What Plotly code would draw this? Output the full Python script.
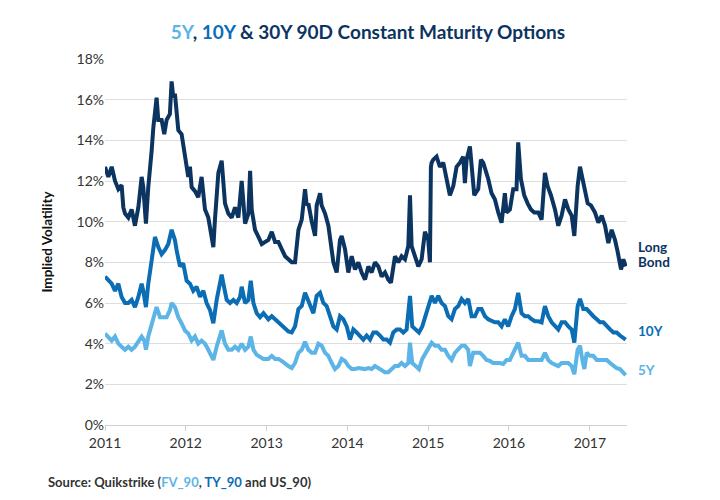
import pandas as pd
import plotly.graph_objects as go

# Leituras aproximadas do gráfico (ano decimal, volatilidade implícita em %)
anos_30y = [2011.000, 2011.041, 2011.083, 2011.124, 2011.165, 2011.206, 2011.227, 2011.248, 2011.289, 2011.330,
            2011.371, 2011.413, 2011.454, 2011.474, 2011.507, 2011.536, 2011.578, 2011.598, 2011.639, 2011.660,
            2011.701, 2011.734, 2011.763, 2011.804, 2011.825, 2011.846, 2011.866, 2011.887, 2011.908, 2011.949,
            2011.969, 2011.990, 2012.031, 2012.052, 2012.073, 2012.114, 2012.155, 2012.196, 2012.217, 2012.238,
            2012.279, 2012.320, 2012.341, 2012.361, 2012.403, 2012.444, 2012.465, 2012.485, 2012.526, 2012.568,
            2012.609, 2012.650, 2012.691, 2012.733, 2012.774, 2012.795, 2012.815, 2012.856, 2012.898, 2012.939,
            2013.021, 2013.063, 2013.104, 2013.145, 2013.186, 2013.228, 2013.269, 2013.310, 2013.351, 2013.393,
            2013.434, 2013.475, 2013.496, 2013.516, 2013.558, 2013.599, 2013.619, 2013.661, 2013.681, 2013.723,
            2013.764, 2013.805, 2013.826, 2013.867, 2013.908, 2013.929, 2013.970, 2014.011, 2014.053, 2014.094,
            2014.135, 2014.176, 2014.218, 2014.259, 2014.300, 2014.341, 2014.383, 2014.424, 2014.465, 2014.506,
            2014.539, 2014.589, 2014.630, 2014.671, 2014.713, 2014.754, 2014.775, 2014.795, 2014.836, 2014.878,
            2014.919, 2014.960, 2015.001, 2015.022, 2015.034, 2015.043, 2015.063, 2015.104, 2015.146, 2015.187,
            2015.228, 2015.269, 2015.311, 2015.352, 2015.393, 2015.434, 2015.455, 2015.476, 2015.517, 2015.538,
            2015.571, 2015.620, 2015.653, 2015.682, 2015.723, 2015.744, 2015.785, 2015.826, 2015.868, 2015.909,
            2015.950, 2015.971, 2016.012, 2016.053, 2016.094, 2016.115, 2016.148, 2016.189, 2016.231, 2016.272,
            2016.313, 2016.363, 2016.404, 2016.445, 2016.478, 2016.519, 2016.569, 2016.610, 2016.651, 2016.693,
            2016.734, 2016.775, 2016.808, 2016.849, 2016.878, 2016.899, 2016.932, 2016.973, 2017.014, 2017.064,
            2017.105, 2017.147, 2017.188, 2017.229, 2017.270, 2017.312, 2017.345, 2017.386, 2017.415, 2017.444]
vol_30y = [12.7, 12.2, 12.7, 12.0, 11.6, 11.8, 10.7, 10.4, 10.2, 10.6,
           9.8, 10.7, 12.2, 11.7, 9.9, 11.7, 13.5, 14.6, 16.1, 15.0,
           15.0, 14.3, 15.0, 15.3, 16.9, 16.1, 16.3, 15.3, 14.5, 14.3,
           13.8, 13.0, 12.2, 12.7, 11.7, 11.5, 11.2, 12.2, 11.2, 10.6,
           10.2, 9.25, 8.75, 10.1, 12.4, 13.0, 12.0, 10.9, 10.4, 10.2,
           10.7, 10.2, 12.0, 9.9, 10.4, 12.5, 10.6, 9.6, 9.25, 8.9,
           9.1, 9.5, 9.0, 9.0, 8.65, 8.3, 8.15, 8.0, 8.0, 9.6,
           10.1, 11.6, 10.8, 10.9, 10.0, 9.3, 10.8, 11.4, 10.8, 10.4,
           9.8, 8.5, 8.0, 7.5, 9.1, 9.3, 8.65, 7.5, 8.3, 7.65,
           8.0, 7.5, 7.15, 7.8, 7.5, 8.0, 7.8, 7.3, 7.5, 7.15,
           7.0, 8.3, 8.0, 8.3, 8.15, 8.8, 11.3, 8.8, 8.3, 7.8,
           8.15, 9.5, 9.1, 8.0, 12.7, 12.9, 13.05, 13.2, 12.7, 12.9,
           12.1, 11.3, 11.75, 12.7, 12.9, 13.2, 11.9, 13.05, 13.7, 12.9,
           11.3, 11.6, 13.05, 12.9, 12.4, 12.1, 11.4, 11.1, 10.45, 9.95,
           11.4, 10.45, 10.6, 11.6, 11.6, 13.9, 12.1, 11.3, 10.9, 10.6,
           10.45, 10.45, 10.1, 12.4, 11.75, 11.3, 10.6, 9.8, 10.3, 11.1,
           10.6, 10.3, 9.3, 11.75, 12.7, 12.25, 11.6, 10.9, 10.8, 10.45,
           9.95, 10.3, 9.8, 8.95, 9.6, 9.1, 8.5, 7.65, 8.15, 7.8]

anos_10y = [2011.000, 2011.041, 2011.083, 2011.124, 2011.165, 2011.206, 2011.248, 2011.289, 2011.330, 2011.371,
            2011.413, 2011.454, 2011.474, 2011.507, 2011.536, 2011.578, 2011.619, 2011.660, 2011.701, 2011.742,
            2011.784, 2011.825, 2011.866, 2011.887, 2011.928, 2011.969, 2012.011, 2012.052, 2012.093, 2012.134,
            2012.176, 2012.217, 2012.258, 2012.300, 2012.341, 2012.382, 2012.423, 2012.444, 2012.465, 2012.506,
            2012.547, 2012.588, 2012.630, 2012.671, 2012.691, 2012.733, 2012.774, 2012.803, 2012.836, 2012.877,
            2012.918, 2012.960, 2013.021, 2013.063, 2013.104, 2013.145, 2013.186, 2013.228, 2013.269, 2013.310,
            2013.351, 2013.393, 2013.434, 2013.475, 2013.508, 2013.537, 2013.578, 2013.619, 2013.661, 2013.702,
            2013.743, 2013.784, 2013.826, 2013.867, 2013.908, 2013.949, 2013.991, 2014.032, 2014.073, 2014.114,
            2014.156, 2014.197, 2014.238, 2014.280, 2014.321, 2014.362, 2014.403, 2014.445, 2014.486, 2014.527,
            2014.568, 2014.610, 2014.651, 2014.692, 2014.733, 2014.775, 2014.803, 2014.845, 2014.886, 2014.927,
            2014.968, 2015.001, 2015.043, 2015.084, 2015.125, 2015.166, 2015.208, 2015.249, 2015.290, 2015.331,
            2015.373, 2015.414, 2015.455, 2015.496, 2015.538, 2015.579, 2015.620, 2015.661, 2015.703, 2015.744,
            2015.785, 2015.826, 2015.868, 2015.909, 2015.950, 2015.991, 2016.033, 2016.074, 2016.115, 2016.156,
            2016.198, 2016.239, 2016.280, 2016.321, 2016.363, 2016.404, 2016.445, 2016.486, 2016.528, 2016.569,
            2016.610, 2016.651, 2016.693, 2016.734, 2016.775, 2016.808, 2016.849, 2016.878, 2016.919, 2016.961,
            2017.002, 2017.043, 2017.085, 2017.126, 2017.167, 2017.209, 2017.250, 2017.291, 2017.332, 2017.373,
            2017.415, 2017.444]
vol_10y = [7.3, 7.1, 6.95, 6.6, 6.95, 6.3, 6.0, 6.0, 6.15, 5.8,
           6.3, 6.95, 6.6, 5.8, 6.95, 8.1, 9.25, 8.75, 8.4, 8.6,
           8.9, 9.6, 9.1, 8.6, 7.8, 7.95, 7.1, 6.95, 6.6, 6.8,
           6.3, 6.6, 6.0, 5.65, 5.0, 6.15, 6.95, 7.4, 6.95, 6.15,
           6.0, 6.15, 6.0, 6.3, 6.8, 6.0, 6.15, 7.1, 6.0, 5.5,
           5.3, 5.5, 5.2, 5.35, 5.2, 5.05, 4.85, 4.7, 4.6, 4.55,
           4.85, 5.7, 5.85, 6.5, 6.2, 5.85, 5.5, 6.35, 6.5, 6.0,
           5.85, 5.35, 4.85, 4.7, 5.35, 5.2, 4.85, 4.2, 4.7, 4.55,
           4.4, 4.2, 4.4, 4.2, 4.55, 4.55, 4.4, 4.2, 4.2, 4.05,
           4.55, 4.7, 4.7, 4.55, 4.7, 6.35, 4.85, 4.7, 4.55, 4.85,
           5.35, 5.7, 6.35, 6.0, 6.35, 6.0, 5.85, 5.35, 5.2, 5.7,
           5.85, 6.2, 6.0, 6.2, 5.35, 5.35, 5.7, 5.7, 5.35, 5.2,
           5.1, 5.05, 5.05, 4.85, 5.2, 4.85, 5.35, 5.7, 6.5, 5.5,
           5.35, 5.35, 5.2, 5.1, 5.1, 5.05, 5.85, 5.35, 5.05, 4.85,
           4.7, 5.05, 5.05, 4.85, 4.7, 4.05, 5.85, 6.2, 5.7, 5.7,
           5.5, 5.35, 5.2, 5.05, 5.05, 4.85, 4.7, 4.55, 4.55, 4.4,
           4.3, 4.2]

anos_5y = [2011.000, 2011.041, 2011.083, 2011.124, 2011.165, 2011.206, 2011.248, 2011.289, 2011.330, 2011.371,
           2011.413, 2011.454, 2011.487, 2011.507, 2011.536, 2011.578, 2011.619, 2011.639, 2011.681, 2011.722,
           2011.763, 2011.804, 2011.825, 2011.866, 2011.908, 2011.949, 2011.990, 2012.031, 2012.073, 2012.114,
           2012.155, 2012.196, 2012.238, 2012.279, 2012.320, 2012.341, 2012.382, 2012.423, 2012.444, 2012.485,
           2012.526, 2012.568, 2012.609, 2012.650, 2012.691, 2012.733, 2012.774, 2012.803, 2012.836, 2012.877,
           2012.918, 2012.960, 2013.021, 2013.063, 2013.104, 2013.145, 2013.186, 2013.228, 2013.269, 2013.310,
           2013.351, 2013.393, 2013.434, 2013.475, 2013.516, 2013.558, 2013.599, 2013.640, 2013.681, 2013.723,
           2013.764, 2013.805, 2013.846, 2013.888, 2013.929, 2013.970, 2014.011, 2014.053, 2014.094, 2014.135,
           2014.176, 2014.218, 2014.259, 2014.300, 2014.341, 2014.383, 2014.424, 2014.465, 2014.506, 2014.548,
           2014.589, 2014.630, 2014.671, 2014.713, 2014.754, 2014.775, 2014.803, 2014.845, 2014.886, 2014.927,
           2014.968, 2015.001, 2015.043, 2015.084, 2015.125, 2015.166, 2015.208, 2015.249, 2015.290, 2015.331,
           2015.373, 2015.414, 2015.455, 2015.496, 2015.517, 2015.558, 2015.599, 2015.641, 2015.682, 2015.723,
           2015.764, 2015.806, 2015.847, 2015.888, 2015.929, 2015.971, 2016.012, 2016.053, 2016.115, 2016.156,
           2016.198, 2016.239, 2016.280, 2016.321, 2016.363, 2016.404, 2016.445, 2016.486, 2016.528, 2016.569,
           2016.610, 2016.651, 2016.693, 2016.734, 2016.775, 2016.808, 2016.849, 2016.878, 2016.907, 2016.932,
           2016.961, 2017.002, 2017.043, 2017.085, 2017.126, 2017.167, 2017.209, 2017.250, 2017.291, 2017.332,
           2017.373, 2017.415, 2017.444]
vol_5y = [4.5, 4.35, 4.15, 4.35, 4.0, 3.85, 3.7, 3.85, 3.7, 3.85,
          4.15, 4.35, 4.15, 3.7, 4.35, 5.0, 5.65, 5.8, 5.3, 5.3,
          5.3, 5.65, 6.0, 5.8, 5.3, 5.0, 4.65, 4.5, 4.15, 4.35,
          4.0, 4.15, 4.0, 3.7, 3.35, 3.2, 3.85, 4.5, 4.65, 4.0,
          3.7, 3.7, 3.85, 3.7, 4.0, 3.7, 3.85, 4.35, 3.7, 3.45,
          3.35, 3.25, 3.25, 3.4, 3.25, 3.25, 3.15, 3.0, 2.9, 2.8,
          3.05, 3.55, 3.7, 4.1, 3.7, 3.55, 3.55, 4.0, 3.9, 3.55,
          3.4, 3.05, 2.75, 2.9, 3.25, 3.15, 2.9, 2.75, 2.75, 2.8,
          2.75, 2.75, 2.8, 2.75, 2.9, 2.8, 2.75, 2.6, 2.6, 2.75,
          2.9, 2.9, 3.05, 2.9, 3.05, 4.05, 3.05, 2.9, 2.75, 3.25,
          3.55, 3.7, 4.05, 3.9, 3.9, 3.7, 3.7, 3.4, 3.2, 3.55,
          3.7, 3.9, 3.9, 3.7, 2.9, 3.55, 3.55, 3.55, 3.4, 3.2,
          3.15, 3.05, 3.05, 3.05, 3.0, 3.2, 3.2, 3.55, 4.05, 3.4,
          3.4, 3.2, 3.2, 3.2, 3.2, 3.2, 3.55, 3.2, 3.05, 3.0,
          2.9, 3.05, 3.05, 3.05, 2.9, 2.5, 3.7, 3.9, 3.2, 2.75,
          3.55, 3.4, 3.4, 3.2, 3.2, 3.2, 3.2, 3.05, 2.9, 2.8,
          2.75, 2.6, 2.45]

anos_ticks = [2011, 2012, 2013, 2014, 2015, 2016, 2017]

COR_30Y = '#0c3461'
COR_10Y = '#0b6db4'
COR_5Y = '#5cb5e6'
FONTE = 'Lato'


def para_data(ano_decimal):
    ano = int(ano_decimal)
    inicio = pd.Timestamp(ano, 1, 1)
    fim = pd.Timestamp(ano + 1, 1, 1)
    return inicio + (fim - inicio) * (ano_decimal - ano)


series = [
    ('5Y', anos_5y, vol_5y, COR_5Y),
    ('10Y', anos_10y, vol_10y, COR_10Y),
    ('Long Bond', anos_30y, vol_30y, COR_30Y),
]

fig = go.Figure()
for nome, anos, vols, cor in series:
    fig.add_trace(go.Scatter(
        x=[para_data(a) for a in anos],
        y=vols,
        mode='lines',
        name=nome,
        line=dict(color=cor, width=4),
        showlegend=False,
    ))

# Rótulos das séries à direita ("Long Bond" em duas linhas, mais juntas)
rotulos = [
    ('Long', 8.76, COR_30Y),
    ('Bond', 8.02, COR_30Y),
    ('10Y', 4.6, COR_10Y),
    ('5Y', 2.7, COR_5Y),
]
for texto, y_val, cor in rotulos:
    fig.add_annotation(
        x=1.018, xref='paper', y=y_val, yref='y',
        text=f'<b>{texto}</b>', showarrow=False,
        xanchor='left', align='left',
        font=dict(family=FONTE, size=13.5, color=cor),
    )

titulo = (
    f"<b><span style='color:{COR_5Y}'>5Y</span>, "
    f"<span style='color:{COR_10Y}'>10Y</span> &amp; 30Y 90D Constant Maturity Options</b>"
)

fig.add_annotation(
    x=-0.113, xref='paper', y=-0.157, yref='paper',
    text=(f"<b>Source: Quikstrike (<span style='color:{COR_5Y}'>FV_90</span>, "
          f"<span style='color:{COR_10Y}'>TY_90</span> and US_90)</b>"),
    showarrow=False, xanchor='left', yanchor='middle',
    font=dict(family=FONTE, size=13, color='#333333'),
)

fig.update_layout(
    width=720, height=500,
    margin=dict(l=97, r=101, t=51, b=83),
    paper_bgcolor='white', plot_bgcolor='white',
    title=dict(text=titulo, x=0.5, xanchor='center', y=0.952, yanchor='middle',
               font=dict(family=FONTE, size=19, color=COR_30Y)),
    xaxis=dict(
        range=[para_data(2011.0), para_data(2017.46)],
        tickvals=[para_data(a) for a in anos_ticks],
        ticktext=[str(a) for a in anos_ticks],
        ticks='outside', ticklen=5, tickcolor='#d0d0d0',
        showgrid=False, showline=True, linecolor='#d0d0d0', linewidth=1,
        tickfont=dict(family=FONTE, size=14, color='#333333'),
        zeroline=False,
    ),
    yaxis=dict(
        range=[0, 18], dtick=2, ticksuffix='%',
        showgrid=True, gridcolor='#dedede', gridwidth=1,
        zeroline=False, showline=False,
        tickfont=dict(family=FONTE, size=14, color='#333333'),
        title=dict(text='<b>Implied Volatility</b>', standoff=20,
                   font=dict(family=FONTE, size=13.5, color='#111111')),
    ),
)

fig.write_html("out.html")
